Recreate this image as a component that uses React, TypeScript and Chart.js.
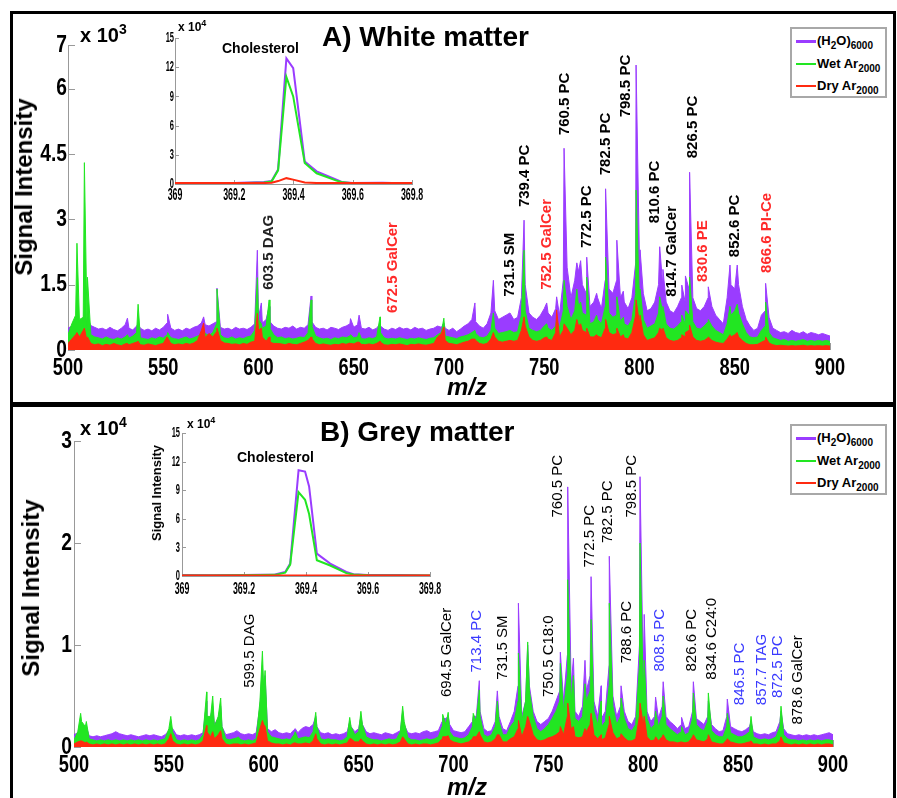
import React, { useEffect, useRef } from 'react';
import { Chart, registerables } from 'chart.js';

Chart.register(...registerables);

const PAGE_W = 897;
const PAGE_H = 798;
const SANS = "'Liberation Sans', Arial, Helvetica, sans-serif";

const PURPLE = '#9a3cff';
const GREEN = '#22e622';
const RED = '#ff2a10';
const LABEL_RED = '#ff2a2a';
const LABEL_BLUE = '#3a3aff';

// ---------------- m/z grid (every 2 m/z, 500..900) ----------------
const gridMz: number[] = Array.from({ length: 201 }, (_, i) => 500 + 2 * i);

// ---------------- Panel A: white matter (x 10^3) ----------------
const purpleA = [
  .50, .55, .62, .60, .66, .58, .56, .52, .48, .50,
  .46, .52, .47, .44, .50, .58, .50, .46, .55, .50,
  .45, .48, .44, .50, .46, .52, .62, .50, .45, .48,
  .44, .50, .47, .52, .55, .62, .58, .55, .60, .65,
  .52, .48, .50, .46, .52, .48, .50, .47, .52, .60,
  .75, .62, .70, .65, .55, .50, .48, .52, .50, .55,
  .48, .52, .50, .58, .65, .52, .48, .50, .46, .52,
  .50, .47, .52, .55, .60, .52, .58, .50, .48, .52,
  .46, .50, .55, .48, .45, .50, .47, .52, .48, .50,
  .46, .52, .48, .50, .45, .48, .50, .55, .52, .50,
  .45, .50, .42, .48, .55, .60, .70, .65, .55, .50,
  .60, .85, .90, .70, .75, .80, .85, .70, .75, 1.2,
  1.5, .85, .75, .70, .80, .95, .85, .75, .95, .80,
  1.6, 1.9, 1.2, 1.6, 1.8, 1.5, 1.3, 1.0, 1.1, 1.2,
  .95, 1.6, 1.4, 1.3, 1.6, 1.2, 1.1, .95, 1.2, 2.0,
  2.0, 1.3, .90, .95, 1.1, 1.5, 1.6, 1.1, .90, .85,
  1.0, 1.2, 1.1, 1.4, 1.2, .95, .90, 1.0, 1.2, 1.0,
  .80, .70, .60, 1.2, 1.5, 1.4, 1.5, 1.0, .70, .55,
  .45, .50, .80, .90, .75, .50, .45, .40, .42, .38,
  .45, .40, .38, .42, .36, .40, .38, .35, .38, .35,
  .32,
];
const greenA = [
  .35, .60, .80, .70, .75, .55, .35, .30, .28, .25,
  .30, .26, .24, .28, .25, .30, .27, .32, .40, .28,
  .26, .24, .28, .25, .30, .27, .35, .28, .26, .24,
  .27, .30, .25, .28, .32, .35, .38, .33, .40, .60,
  .35, .28, .26, .30, .25, .28, .26, .30, .32, .45,
  .70, .50, .55, .50, .35, .28, .30, .26, .28, .25,
  .27, .30, .28, .40, .55, .32, .28, .25, .27, .24,
  .28, .26, .30, .28, .32, .28, .30, .26, .25, .28,
  .26, .30, .40, .28, .25, .27, .25, .28, .26, .24,
  .27, .25, .28, .26, .24, .27, .28, .35, .40, .32,
  .30, .28, .26, .30, .32, .35, .40, .38, .30, .28,
  .32, .45, .50, .38, .40, .42, .45, .40, .42, .80,
  .90, .50, .45, .42, .45, .55, .50, .45, .55, .50,
  .90, 1.0, .70, .90, 1.0, .85, .80, .60, .65, .70,
  .60, 1.0, .85, .75, .80, .65, .60, .55, .70, 1.3,
  1.1, .70, .50, .55, .60, .85, .90, .60, .50, .48,
  .55, .65, .60, .80, .65, .50, .48, .55, .65, .55,
  .45, .40, .35, .60, .80, .90, .85, .60, .40, .30,
  .28, .30, .45, .55, .40, .28, .25, .22, .24, .20,
  .22, .20, .22, .24, .20, .22, .20, .22, .20, .22,
  .20,
];
const redA = [
  .15, .25, .35, .30, .45, .20, .15, .12, .14, .10,
  .13, .11, .15, .12, .10, .14, .12, .15, .18, .12,
  .11, .14, .12, .10, .13, .15, .30, .15, .12, .14,
  .12, .15, .13, .16, .22, .45, .28, .38, .30, .42,
  .22, .16, .15, .13, .14, .12, .15, .13, .18, .20,
  .45, .30, .20, .18, .15, .15, .14, .12, .15, .13,
  .12, .15, .18, .22, .26, .15, .12, .14, .12, .11,
  .13, .12, .15, .13, .16, .14, .18, .13, .12, .14,
  .12, .15, .18, .12, .11, .13, .12, .14, .12, .10,
  .13, .12, .14, .12, .11, .13, .15, .30, .38, .22,
  .15, .14, .12, .15, .18, .20, .25, .22, .15, .13,
  .15, .25, .30, .20, .18, .20, .22, .20, .22, .45,
  .55, .30, .22, .20, .22, .28, .25, .22, .40, .30,
  .45, .50, .35, .45, .55, .45, .40, .30, .30, .32,
  .28, .50, .40, .35, .38, .30, .28, .25, .40, .80,
  .60, .35, .22, .25, .28, .40, .45, .28, .22, .20,
  .22, .28, .30, .45, .30, .22, .20, .22, .28, .22,
  .18, .16, .15, .25, .30, .35, .30, .22, .15, .12,
  .12, .13, .18, .22, .16, .12, .10, .11, .10, .09,
  .10, .09, .10, .11, .09, .10, .09, .10, .09, .10,
  .09,
];
const peakMzA = [504.7, 508.6, 510.2, 531.2, 536.8, 552.3, 571.2, 578.2, 599.4, 601.5, 605.6, 627.6, 648.3, 652.8, 663.8, 697.3, 713.6, 723.3, 739.4, 751.3, 756.5, 760.4, 767.1, 769.1, 772.3, 777.5, 782.2, 788.1, 791.5, 798.2, 800.3, 810.6, 812.3, 822.2, 824.1, 826.3, 836.1, 847.5, 851.3, 866.2];
const peakPurpleA = [0.8, 0.9, 0.75, 0.73, 0.6, 0.82, 0.76, 1.42, 2.29, 1.08, 1.0, 1.24, 0.72, 0.8, 0.6, 0.62, 1.08, 1.6, 2.98, 1.08, 1.22, 4.63, 2.0, 2.05, 2.13, 1.3, 3.7, 2.52, 1.35, 6.54, 2.3, 2.37, 1.85, 1.49, 1.7, 4.08, 1.45, 1.95, 1.95, 1.53];
const peakGreenA = [2.45, 4.3, 1.67, 0.35, 1.05, 0.4, 0.45, 1.4, 1.66, 0.6, 1.15, 1.15, 0.35, 0.4, 0.76, 0.73, 0.45, 0.85, 2.29, 0.6, 0.7, 1.6, 1.4, 1.1, 1.67, 0.8, 2.13, 1.22, 0.75, 3.67, 1.4, 1.22, 1.0, 0.8, 0.9, 1.67, 0.7, 1.0, 1.05, 1.1];
const peakRedA = [0.4, 0.5, 0.3, 0.15, 0.2, 0.3, 0.62, 0.5, 0.84, 0.5, 0.3, 0.3, 0.15, 0.18, 0.2, 0.53, 0.25, 0.4, 0.76, 0.3, 0.92, 0.6, 0.7, 0.6, 0.5, 0.35, 0.7, 0.5, 0.35, 1.15, 0.8, 0.5, 0.5, 0.35, 0.4, 0.57, 0.3, 0.35, 0.4, 0.3];

const yTicksA = [0, 1.5, 3, 4.5, 6, 7];
const yLabelsA = ['0', '1.5', '3', '4.5', '6', '7'];

const labelTextA = ['603.5 DAG', '672.5 GalCer', '731.5 SM', '739.4 PC', '752.5 GalCer', '760.5 PC', '772.5 PC', '782.5 PC', '798.5 PC', '810.6 PC', '814.7 GalCer', '826.5 PC', '830.6 PE', '852.6 PC', '866.6 PI-Ce'];
const labelMzA = [605.5, 670.6, 732.0, 739.9, 751.3, 760.9, 772.3, 782.4, 792.9, 808.1, 816.9, 828.2, 833.5, 850.1, 866.8];
const labelBaseA = [1.38, 0.85, 1.22, 3.28, 1.38, 4.93, 2.34, 4.01, 5.34, 2.91, 1.22, 4.40, 1.56, 2.13, 1.77];
const labelKindA = ['g', 'r', 'k', 'k', 'r', 'k', 'k', 'k', 'k', 'k', 'k', 'k', 'r', 'k', 'r'];

// ---------------- Panel B: grey matter (x 10^4) ----------------
const purpleB = [
  .12, .14, .20, .15, .11, .10, .11, .10, .11, .12,
  .13, .15, .13, .12, .11, .12, .11, .10, .11, .12,
  .11, .12, .11, .10, .12, .16, .18, .12, .11, .12,
  .11, .12, .11, .12, .14, .25, .30, .22, .28, .20,
  .12, .13, .14, .16, .13, .12, .13, .12, .14, .40,
  .50, .18, .15, .17, .14, .13, .14, .13, .17, .14,
  .18, .20, .19, .22, .20, .14, .13, .14, .12, .13,
  .12, .13, .15, .20, .15, .18, .22, .15, .13, .14,
  .13, .12, .14, .13, .12, .14, .16, .22, .14, .13,
  .14, .13, .15, .16, .14, .15, .16, .25, .28, .22,
  .16, .15, .14, .15, .20, .25, .30, .35, .18, .15,
  .16, .25, .30, .18, .16, .25, .35, .60, .30, .45,
  .60, .35, .25, .22, .25, .28, .35, .45, .55, .45,
  .90, .60, .35, .30, .40, .55, .70, .45, .30, .28,
  .35, .80, .50, .30, .40, .35, .25, .22, .30, 1.0,
  .70, .35, .25, .30, .28, .40, .30, .25, .22, .18,
  .22, .18, .20, .35, .28, .25, .22, .30, .22, .18,
  .15, .16, .30, .20, .18, .16, .15, .17, .20, .15,
  .13, .12, .13, .12, .14, .15, .25, .18, .13, .12,
  .11, .12, .11, .12, .11, .12, .11, .12, .13, .14,
  .12,
];
const greenB = [
  .07, .15, .25, .20, .08, .07, .06, .07, .06, .07,
  .06, .07, .06, .07, .06, .07, .06, .07, .06, .07,
  .06, .07, .06, .07, .08, .18, .15, .07, .06, .07,
  .06, .07, .06, .07, .12, .30, .30, .20, .30, .20,
  .08, .07, .08, .09, .07, .06, .07, .06, .08, .45,
  .55, .15, .10, .09, .08, .07, .08, .07, .12, .08,
  .09, .10, .09, .15, .20, .08, .07, .08, .07, .07,
  .06, .07, .10, .20, .12, .15, .22, .10, .08, .07,
  .07, .06, .07, .08, .07, .08, .15, .25, .09, .07,
  .07, .06, .07, .08, .07, .08, .10, .20, .22, .15,
  .10, .09, .08, .09, .12, .20, .25, .30, .12, .10,
  .12, .20, .25, .12, .12, .20, .25, .45, .25, .45,
  .55, .30, .18, .15, .18, .22, .28, .35, .45, .35,
  .70, .45, .28, .25, .30, .45, .55, .35, .22, .20,
  .25, .60, .40, .22, .30, .28, .18, .16, .22, .80,
  .55, .28, .18, .22, .20, .30, .22, .18, .15, .12,
  .15, .12, .14, .28, .22, .18, .16, .25, .16, .12,
  .10, .10, .20, .14, .12, .10, .10, .12, .15, .10,
  .08, .07, .08, .07, .08, .10, .20, .12, .08, .07,
  .07, .06, .07, .06, .07, .06, .07, .06, .07, .07,
  .06,
];
const redB = [
  .03, .05, .06, .04, .03, .02, .03, .02, .03, .02,
  .03, .02, .03, .02, .03, .02, .03, .02, .03, .02,
  .03, .02, .03, .02, .03, .08, .06, .03, .02, .03,
  .02, .03, .02, .03, .06, .15, .10, .08, .12, .08,
  .03, .02, .03, .03, .02, .03, .02, .03, .04, .18,
  .22, .06, .04, .03, .03, .02, .03, .02, .04, .03,
  .03, .04, .03, .06, .08, .03, .02, .03, .02, .03,
  .02, .03, .04, .08, .05, .05, .06, .03, .02, .03,
  .02, .03, .02, .03, .02, .03, .05, .08, .03, .02,
  .03, .02, .03, .03, .02, .03, .04, .08, .10, .07,
  .05, .04, .03, .04, .05, .08, .10, .12, .05, .04,
  .05, .08, .12, .05, .05, .08, .10, .18, .10, .20,
  .25, .12, .07, .06, .07, .09, .10, .12, .15, .12,
  .30, .18, .10, .09, .10, .15, .22, .12, .08, .07,
  .09, .22, .14, .08, .10, .09, .06, .06, .08, .30,
  .22, .10, .06, .07, .06, .10, .07, .05, .05, .04,
  .05, .04, .05, .10, .07, .06, .05, .08, .05, .04,
  .03, .03, .07, .05, .04, .03, .03, .04, .05, .03,
  .03, .02, .03, .02, .03, .03, .06, .04, .03, .02,
  .03, .02, .03, .02, .03, .02, .03, .02, .03, .03,
  .02,
];
const peakMzB = [503.5, 506.5, 551, 569.9, 573.1, 577.3, 586.5, 599.3, 600.7, 616.6, 627.4, 645.3, 651.2, 673.2, 694.3, 697.2, 710.4, 713.6, 723.1, 734.2, 739.1, 756.3, 760.2, 763.2, 769.3, 772.5, 777.8, 782.1, 788.3, 798.3, 800.5, 806.5, 810.5, 820.2, 826.4, 834.3, 844.3, 856.8, 872.6];
const peakPurpleB = [0.25, 0.2, 0.2, 0.45, 0.4, 0.4, 0.15, 0.8, 0.7, 0.18, 0.3, 0.25, 0.3, 0.35, 0.28, 0.3, 0.3, 0.65, 0.55, 1.41, 1.0, 0.93, 2.55, 0.87, 0.85, 1.67, 0.6, 1.87, 0.6, 2.65, 1.3, 0.49, 0.64, 0.29, 0.64, 0.45, 0.47, 0.25, 0.35];
const peakGreenB = [0.33, 0.25, 0.3, 0.54, 0.5, 0.48, 0.1, 0.94, 0.75, 0.15, 0.34, 0.29, 0.35, 0.4, 0.32, 0.34, 0.33, 0.56, 0.45, 0.92, 1.03, 0.82, 1.64, 0.7, 0.62, 1.25, 0.45, 1.41, 0.48, 2.0, 0.85, 0.35, 0.5, 0.2, 0.53, 0.53, 0.33, 0.3, 0.4];
const peakRedB = [0.06, 0.05, 0.13, 0.21, 0.15, 0.16, 0.03, 0.26, 0.2, 0.04, 0.13, 0.08, 0.08, 0.1, 0.1, 0.11, 0.1, 0.15, 0.12, 0.26, 0.3, 0.2, 0.43, 0.2, 0.18, 0.33, 0.12, 0.3, 0.13, 0.43, 0.3, 0.1, 0.12, 0.05, 0.12, 0.12, 0.08, 0.06, 0.1];

const yTicksB = [0, 1, 2, 3];
const yLabelsB = ['0', '1', '2', '3'];

const labelTextB = ['599.5 DAG', '694.5 GalCer', '713.4 PC', '731.5 SM', '750.5 C18:0', '760.5 PC', '772.5 PC', '782.5 PC', '788.6 PC', '798.5 PC', '808.5 PC', '826.6 PC', '834.6 C24:0', '846.5 PC', '857.7 TAG', '872.5 PC', '878.6 GalCer'];
const labelMzB = [592.8, 696.4, 712.2, 726.2, 750.0, 755.2, 771.9, 781.6, 791.3, 793.9, 808.8, 825.5, 836.1, 851.0, 862.4, 871.2, 881.7];
const labelBaseB = [0.58, 0.49, 0.73, 0.66, 0.49, 2.25, 1.76, 2.0, 0.82, 2.25, 0.74, 0.74, 0.66, 0.41, 0.41, 0.48, 0.22];
const labelKindB = ['k', 'k', 'b', 'k', 'k', 'k', 'k', 'k', 'k', 'k', 'b', 'k', 'k', 'b', 'b', 'b', 'k'];

// ---------------- Insets: cholesterol peak (x 10^4) ----------------
const insetXTicks = [369, 369.2, 369.4, 369.6, 369.8];
const insetXLabels = ['369', '369.2', '369.4', '369.6', '369.8'];
const insetYTicks = [0, 3, 6, 9, 12, 15];
const insetYLabels = ['0', '3', '6', '9', '12', '15'];

const insetXA = [369, 369.1, 369.2, 369.3, 369.326, 369.348, 369.376, 369.399, 369.438, 369.478, 369.545, 369.567, 369.6, 369.7, 369.8];
const insetPurpleA = [0.05, 0.08, 0.1, 0.2, 0.3, 1.5, 12.9, 11.9, 2.3, 1.3, 0.44, 0.17, 0.1, 0.12, 0.05];
const insetGreenA = [0.03, 0.05, 0.08, 0.15, 0.25, 1.4, 11.0, 9.0, 2.15, 1.1, 0.35, 0.17, 0.08, 0.05, 0.03];
const insetRedA = [0.1, 0.1, 0.1, 0.1, 0.12, 0.3, 0.6, 0.45, 0.15, 0.1, 0.1, 0.1, 0.1, 0.1, 0.1];

const insetXB = [369, 369.1, 369.2, 369.3, 369.333, 369.349, 369.376, 369.397, 369.41, 369.435, 369.478, 369.53, 369.553, 369.6, 369.7, 369.8];
const insetPurpleB = [0.1, 0.08, 0.1, 0.15, 0.42, 1.3, 11.1, 10.95, 9.4, 2.35, 1.3, 0.42, 0.18, 0.1, 0.1, 0.05];
const insetGreenB = [0.05, 0.05, 0.08, 0.12, 0.35, 1.2, 8.8, 8.0, 6.5, 1.65, 1.1, 0.3, 0.15, 0.08, 0.05, 0.05];
const insetRedB = [0.05, 0.05, 0.05, 0.05, 0.05, 0.05, 0.05, 0.05, 0.05, 0.05, 0.05, 0.05, 0.05, 0.05, 0.05, 0.05];

// ---------------- helpers ----------------
type Pt = { x: number; y: number };
type Area = { left: number; top: number; right: number; bottom: number };

function mergeSeries(base: number[], peakMz: number[], peakVals: number[]): Pt[] {
  const pts: Pt[] = gridMz.map((x, i) => ({ x, y: base[i] }));
  peakMz.forEach((x, i) => pts.push({ x, y: peakVals[i] }));
  pts.sort((a, b) => a.x - b.x);
  return pts;
}
function zip(xs: number[], ys: number[]): Pt[] {
  return xs.map((x, i) => ({ x, y: ys[i] }));
}
const KIND_COLOR: Record<string, string> = { k: '#000', g: '#222', r: LABEL_RED, b: LABEL_BLUE };

// Draws inward tick marks, squeezed (condensed) tick labels and rotated peak annotations.
const decorPlugin = {
  id: 'decor',
  beforeDatasetsDraw(chart: any, _a: any, opts: any) {
    const { ctx, chartArea: a, scales } = chart;
    const len = opts.tickLen || 0;
    if (!len) return;
    ctx.save();
    ctx.strokeStyle = opts.tickColor || '#999';
    ctx.lineWidth = 1;
    scales.y.ticks.forEach((t: any) => {
      const py = Math.round(scales.y.getPixelForValue(t.value)) + 0.5;
      ctx.beginPath(); ctx.moveTo(a.left, py); ctx.lineTo(a.left + len, py); ctx.stroke();
    });
    scales.x.ticks.forEach((t: any) => {
      const px = Math.round(scales.x.getPixelForValue(t.value)) + 0.5;
      ctx.beginPath(); ctx.moveTo(px, a.bottom); ctx.lineTo(px, a.bottom - len); ctx.stroke();
    });
    ctx.restore();
  },
  afterDatasetsDraw(chart: any, _a: any, opts: any) {
    const { ctx, scales, chartArea: a } = chart;
    // condensed tick labels, taken from the scales' own ticks
    ctx.save();
    ctx.fillStyle = '#000';
    ctx.textBaseline = 'middle';
    ctx.font = opts.xFont;
    ctx.textAlign = 'center';
    scales.x.ticks.forEach((t: any) => {
      ctx.save();
      ctx.translate(scales.x.getPixelForValue(t.value), a.bottom + opts.xOff);
      ctx.scale(opts.xSqueeze, 1);
      ctx.fillText(t.label, 0, 0);
      ctx.restore();
    });
    ctx.font = opts.yFont;
    ctx.textAlign = 'right';
    scales.y.ticks.forEach((t: any) => {
      ctx.save();
      ctx.translate(a.left - opts.yOff, scales.y.getPixelForValue(t.value));
      ctx.scale(opts.ySqueeze, 1);
      ctx.fillText(t.label, 0, 0);
      ctx.restore();
    });
    ctx.restore();

    const labels = opts.labels || [];
    ctx.save();
    ctx.font = opts.font;
    ctx.textAlign = 'left';
    ctx.textBaseline = 'middle';
    labels.forEach((l: any) => {
      const px = scales.x.getPixelForValue(l.x);
      const py = scales.y.getPixelForValue(l.y);
      ctx.save();
      ctx.translate(px, py);
      ctx.rotate(-Math.PI / 2);
      ctx.fillStyle = l.color;
      ctx.fillText(l.text, 0, 0);
      ctx.restore();
    });
    ctx.restore();
  },
};

function padFor(area: Area, yw: number, xh: number) {
  return { left: area.left - yw, top: area.top, right: PAGE_W - area.right, bottom: PAGE_H - area.bottom - xh };
}

const HIDDEN = 'rgba(0,0,0,0)';

function mainConfig(p: {
  area: Area; yMax: number; yTicks: number[]; yLabels: string[];
  purple: Pt[]; green: Pt[]; red: Pt[];
  labels: any[]; labelFont: string; yOff: number;
}): any {
  const YW = 60, XH = 40;
  const ds = (data: Pt[], color: string, order: number) => ({
    data, borderColor: color, backgroundColor: color, borderWidth: 1, pointRadius: 0,
    fill: 'origin', tension: 0, order,
  });
  return {
    type: 'line',
    data: { datasets: [ds(p.purple, PURPLE, 3), ds(p.green, GREEN, 2), ds(p.red, RED, 1)] },
    options: {
      responsive: false, animation: false, events: [],
      layout: { padding: padFor(p.area, YW, XH) },
      plugins: {
        legend: { display: false }, tooltip: { enabled: false }, title: { display: false },
        decor: {
          tickLen: 7, tickColor: '#999', labels: p.labels, font: p.labelFont,
          xFont: `bold 24px ${SANS}`, xOff: 18, xSqueeze: 0.76,
          yFont: `bold 24px ${SANS}`, yOff: p.yOff, ySqueeze: 0.8,
        },
      },
      scales: {
        x: {
          type: 'linear', min: 500, max: 900,
          afterFit: (s: any) => { s.height = XH; },
          ticks: { stepSize: 50, autoSkip: false, maxRotation: 0, padding: 4, color: HIDDEN,
            font: { family: SANS, size: 18, weight: 'bold' }, callback: (v: any) => String(v) },
          grid: { display: false, drawTicks: false }, border: { display: false },
        },
        y: {
          type: 'linear', min: 0, max: p.yMax,
          afterFit: (s: any) => { s.width = YW; },
          afterBuildTicks: (s: any) => { s.ticks = p.yTicks.map((v) => ({ value: v })); },
          ticks: { padding: 1, color: HIDDEN, font: { family: SANS, size: 19, weight: 'bold' },
            callback: (_v: any, i: number) => p.yLabels[i] },
          grid: { display: false, drawTicks: false }, border: { display: true, color: '#999', width: 1 },
        },
      },
    },
    plugins: [decorPlugin],
  };
}

function insetConfig(p: { area: Area; purple: Pt[]; green: Pt[]; red: Pt[]; xOff: number; yOff: number }): any {
  const YW = 20, XH = 24;
  const ds = (data: Pt[], color: string, order: number) => ({
    data, borderColor: color, backgroundColor: color, borderWidth: 2, pointRadius: 0,
    fill: false, tension: 0, order,
  });
  return {
    type: 'line',
    data: { datasets: [ds(p.purple, PURPLE, 3), ds(p.green, GREEN, 2), ds(p.red, RED, 1)] },
    options: {
      responsive: false, animation: false, events: [],
      layout: { padding: padFor(p.area, YW, XH) },
      plugins: {
        legend: { display: false }, tooltip: { enabled: false },
        decor: {
          tickLen: 4, tickColor: '#999',
          xFont: `bold 17px ${SANS}`, xOff: p.xOff, xSqueeze: 0.52,
          yFont: `bold 15px ${SANS}`, yOff: p.yOff, ySqueeze: 0.5,
        },
      },
      scales: {
        x: {
          type: 'linear', min: 369, max: 369.8,
          afterFit: (s: any) => { s.height = XH; },
          afterBuildTicks: (s: any) => { s.ticks = insetXTicks.map((v) => ({ value: v })); },
          ticks: { autoSkip: false, maxRotation: 0, padding: 3, color: HIDDEN,
            font: { family: SANS, size: 9, weight: 'bold' }, callback: (_v: any, i: number) => insetXLabels[i] },
          grid: { display: false, drawTicks: false }, border: { display: true, color: '#999', width: 1 },
        },
        y: {
          type: 'linear', min: 0, max: 15,
          afterFit: (s: any) => { s.width = YW; },
          afterBuildTicks: (s: any) => { s.ticks = insetYTicks.map((v) => ({ value: v })); },
          ticks: { padding: 3, color: HIDDEN, font: { family: SANS, size: 9, weight: 'bold' },
            callback: (_v: any, i: number) => insetYLabels[i] },
          grid: { display: false, drawTicks: false }, border: { display: true, color: '#999', width: 1 },
        },
      },
    },
    plugins: [decorPlugin],
  };
}

function buildLabels(text: string[], mz: number[], base: number[], kind: string[]) {
  return text.map((t, i) => ({ text: t, x: mz[i], y: base[i], color: KIND_COLOR[kind[i]] }));
}

function ChartCanvas({ make }: { make: () => any }) {
  const ref = useRef<HTMLCanvasElement>(null);
  useEffect(() => {
    const chart = new Chart(ref.current as HTMLCanvasElement, make());
    return () => chart.destroy();
  }, []);
  return (
    <canvas ref={ref} width={PAGE_W} height={PAGE_H}
      style={{ position: 'absolute', left: 0, top: 0, width: PAGE_W, height: PAGE_H }} />
  );
}

const abs = (s: React.CSSProperties): React.CSSProperties => ({ position: 'absolute', whiteSpace: 'nowrap', color: '#000', ...s });
const SUB: React.CSSProperties = { fontSize: 10, position: 'relative', top: 4, verticalAlign: 'baseline' };
const SUP: React.CSSProperties = { fontSize: 14, position: 'relative', top: -8, verticalAlign: 'baseline' };
const SUP_S: React.CSSProperties = { fontSize: 9, position: 'relative', top: -5, verticalAlign: 'baseline' };

function Legend({ left, top }: { left: number; top: number }) {
  const rows = [
    { c: PURPLE, h: 3, content: <>(H<sub style={SUB}>2</sub>O)<sub style={SUB}>6000</sub></> },
    { c: GREEN, h: 2, content: <>Wet Ar<sub style={SUB}>2000</sub></> },
    { c: RED, h: 2, content: <>Dry Ar<sub style={SUB}>2000</sub></> },
  ];
  const centers = [12, 35, 57];
  return (
    <div style={{ position: 'absolute', left, top, width: 97, height: 71, border: '2px solid #a8a8a8', background: '#fff', boxSizing: 'border-box' }}>
      {rows.map((r, i) => (
        <React.Fragment key={i}>
          <div style={{ position: 'absolute', left: 4, top: centers[i] - Math.floor(r.h / 2), width: 20, height: r.h, background: r.c }} />
          <div style={abs({ left: 25, top: centers[i] - 8, font: `bold 13px ${SANS}`, lineHeight: '16px' })}>{r.content}</div>
        </React.Fragment>
      ))}
    </div>
  );
}

export default function App() {
  const labelsA = buildLabels(labelTextA, labelMzA, labelBaseA, labelKindA);
  const labelsB = buildLabels(labelTextB, labelMzB, labelBaseB, labelKindB);
  return (
    <div style={{ position: 'fixed', left: 0, top: 0, width: PAGE_W, height: PAGE_H, background: '#fff', overflow: 'hidden', fontFamily: SANS }}>
      {/* frames */}
      <div style={{ position: 'absolute', left: 10, top: 11, width: 886, height: 394, border: '3px solid #000', boxSizing: 'border-box' }} />
      <div style={{ position: 'absolute', left: 10, top: 404, width: 886, height: 400, border: '3px solid #000', boxSizing: 'border-box' }} />

      <ChartCanvas make={() => mainConfig({
        area: { left: 68, top: 45, right: 830, bottom: 350 }, yMax: 7, yTicks: yTicksA, yLabels: yLabelsA,
        purple: mergeSeries(purpleA, peakMzA, peakPurpleA), green: mergeSeries(greenA, peakMzA, peakGreenA), red: mergeSeries(redA, peakMzA, peakRedA),
        labels: labelsA, labelFont: `bold 15px ${SANS}`, yOff: 1,
      })} />
      <ChartCanvas make={() => insetConfig({
        area: { left: 175, top: 38, right: 412, bottom: 184 },
        purple: zip(insetXA, insetPurpleA), green: zip(insetXA, insetGreenA), red: zip(insetXA, insetRedA),
        xOff: 11, yOff: 1,
      })} />
      <ChartCanvas make={() => mainConfig({
        area: { left: 74, top: 441, right: 833, bottom: 747 }, yMax: 3, yTicks: yTicksB, yLabels: yLabelsB,
        purple: mergeSeries(purpleB, peakMzB, peakPurpleB), green: mergeSeries(greenB, peakMzB, peakGreenB), red: mergeSeries(redB, peakMzB, peakRedB),
        labels: labelsB, labelFont: `15px ${SANS}`, yOff: 2,
      })} />
      <ChartCanvas make={() => insetConfig({
        area: { left: 182, top: 433, right: 430, bottom: 576 },
        purple: zip(insetXB, insetPurpleB), green: zip(insetXB, insetGreenB), red: zip(insetXB, insetRedB),
        xOff: 13, yOff: 2,
      })} />

      {/* Panel A texts */}
      <div style={abs({ left: 322, top: 23, font: `bold 28px ${SANS}`, lineHeight: '28px' })}>A) White matter</div>
      <div style={abs({ left: 80, top: 25, font: `bold 20px ${SANS}`, lineHeight: '20px' })}>x 10<span style={SUP}>3</span></div>
      <div style={abs({ left: 24, top: 187, font: `bold 24px ${SANS}`, lineHeight: '24px', transform: 'translate(-50%,-50%) rotate(-90deg)' })}>Signal Intensity</div>
      <div style={abs({ left: 447, top: 375, font: `italic bold 24px ${SANS}`, lineHeight: '24px' })}>m/z</div>
      <div style={abs({ left: 178, top: 21, font: `bold 12px ${SANS}`, lineHeight: '12px' })}>x 10<span style={SUP_S}>4</span></div>
      <div style={abs({ left: 222, top: 41, font: `bold 14px ${SANS}`, lineHeight: '14px' })}>Cholesterol</div>
      <Legend left={790} top={27} />

      {/* Panel B texts */}
      <div style={abs({ left: 320, top: 418, font: `bold 28px ${SANS}`, lineHeight: '28px' })}>B) Grey matter</div>
      <div style={abs({ left: 80, top: 418, font: `bold 20px ${SANS}`, lineHeight: '20px' })}>x 10<span style={SUP}>4</span></div>
      <div style={abs({ left: 31, top: 588, font: `bold 24px ${SANS}`, lineHeight: '24px', transform: 'translate(-50%,-50%) rotate(-90deg)' })}>Signal Intensity</div>
      <div style={abs({ left: 447, top: 775, font: `italic bold 24px ${SANS}`, lineHeight: '24px' })}>m/z</div>
      <div style={abs({ left: 187, top: 418, font: `bold 12px ${SANS}`, lineHeight: '12px' })}>x 10<span style={SUP_S}>4</span></div>
      <div style={abs({ left: 237, top: 450, font: `bold 14px ${SANS}`, lineHeight: '14px' })}>Cholesterol</div>
      <div style={abs({ left: 157, top: 493, font: `bold 13px ${SANS}`, lineHeight: '14px', transform: 'translate(-50%,-50%) rotate(-90deg)' })}>Signal Intensity</div>
      <Legend left={790} top={424} />
    </div>
  );
}
